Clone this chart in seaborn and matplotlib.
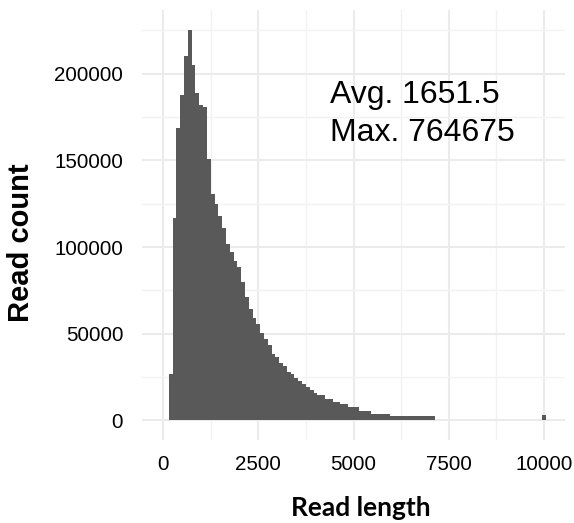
import matplotlib
matplotlib.use("Agg")
import matplotlib.pyplot as plt
import seaborn as sns
from matplotlib.ticker import MultipleLocator

# ---- data (bin centers, binwidth 100) ----
bin_centers = [200, 300, 400, 500, 600, 700, 800, 900, 1000, 1100,
               1200, 1300, 1400, 1500, 1600, 1700, 1800, 1900, 2000, 2100,
               2200, 2300, 2400, 2500, 2600, 2700, 2800, 2900, 3000, 3100,
               3200, 3300, 3400, 3500, 3600, 3700, 3800, 3900, 4000, 4100,
               4200, 4300, 4400, 4500, 4600, 4700, 4800, 4900, 5000, 5100,
               5200, 5300, 5400, 5500, 5600, 5700, 5800, 5900, 6000, 6100,
               6200, 6300, 6400, 6500, 6600, 6700, 6800, 6900, 7000, 7100,
               10000]
read_counts = [26500, 116700, 168500, 187500, 210000, 225400, 204700, 189000, 182000, 180500,
               151000, 130500, 125000, 118000, 111000, 102000, 97000, 92000, 88500, 80000,
               71300, 64400, 59000, 55800, 50600, 47000, 43700, 38500, 36800, 33300,
               31600, 28200, 26500, 24700, 23000, 21300, 19500, 17800, 16100, 14400,
               14400, 12600, 12600, 10900, 10900, 9200, 9200, 7500, 7500, 7500,
               5700, 5700, 5700, 4000, 4000, 4000, 4000, 4000, 2300, 2300,
               2300, 2300, 2300, 2300, 2300, 2300, 2300, 2300, 2300, 2300,
               3400]
x_ticks = [0, 2500, 5000, 7500, 10000]
y_ticks = [0, 50000, 100000, 150000, 200000]
annot_lines = ["Avg. 1651.5", "Max. 764675"]

W, H = 574, 523
fig = plt.figure(figsize=(W / 100, H / 100), dpi=100)
ax = fig.add_axes([142 / W, 1 - 440 / H, (565 - 142) / W, (440 - 10) / H])

sns.histplot(x=bin_centers, weights=read_counts, binwidth=100, binrange=(-50, 10050),
             color="#595959", alpha=1, linewidth=0, edgecolor="none", ax=ax)
for p in ax.patches:
    p.set_antialiased(False)

ax.set_xlim(-555, 10555)
ax.set_ylim(-11270, 236670)
ax.set_xticks(x_ticks)
ax.set_yticks(y_ticks)
ax.set_xticklabels([str(v) for v in x_ticks])
ax.set_yticklabels([str(v) for v in y_ticks])
ax.xaxis.set_minor_locator(MultipleLocator(1250))
ax.yaxis.set_minor_locator(MultipleLocator(25000))

ax.set_facecolor("white")
for s in ax.spines.values():
    s.set_visible(False)
ax.set_axisbelow(True)
ax.grid(which="major", color="#EBEBEB", linewidth=1.5)
ax.grid(which="minor", color="#F2F2F2", linewidth=1.0)
ax.tick_params(which="both", length=0)
ax.tick_params(axis="y", pad=13.5, labelsize=14.8, labelcolor="black")
ax.tick_params(axis="x", pad=10.5, labelsize=14.8, labelcolor="black")
for lab in ax.get_xticklabels() + ax.get_yticklabels():
    lab.set_fontfamily("Liberation Sans")
ax.set_xlabel("")
ax.set_ylabel("")

fig.text(21 / W, 1 - 242.5 / H, "Read count", rotation=90, ha="center", va="center",
         fontsize=21, fontweight="bold", family="Liberation Sans", color="black")
fig.text(361 / W, 1 - 516 / H, "Read length", ha="center", va="baseline",
         fontsize=19, fontweight="bold", family="Lato", color="black")

fig.text(330 / W, 1 - 103 / H, annot_lines[0], ha="left", va="baseline",
         fontsize=23, family="Liberation Sans", color="black")
fig.text(330 / W, 1 - 141 / H, annot_lines[1], ha="left", va="baseline",
         fontsize=23, family="Liberation Sans", color="black")

fig.savefig("out.png", dpi=100, facecolor="white")
